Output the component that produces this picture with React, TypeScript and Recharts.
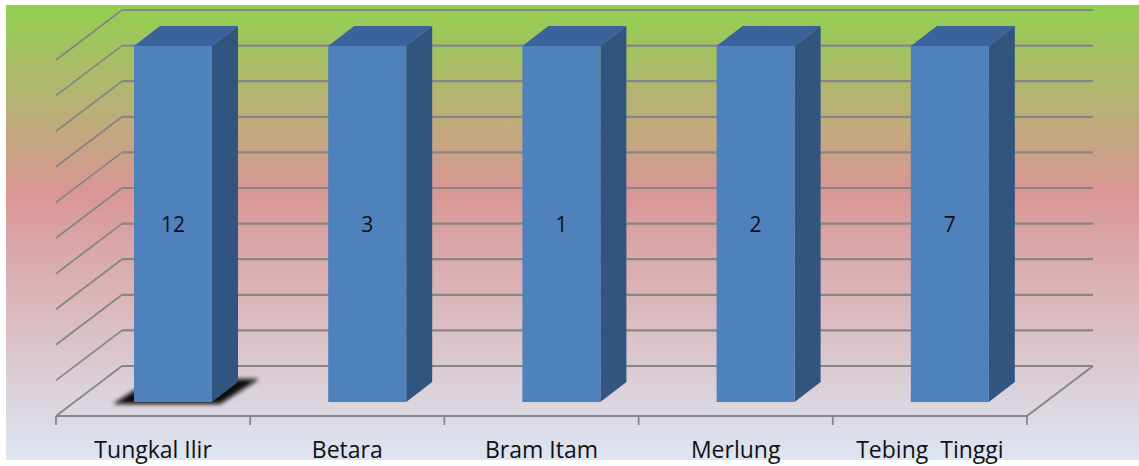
import React from "react";
import { BarChart, Bar, XAxis, YAxis, CartesianGrid, LabelList } from "recharts";

const districts = ["Tungkal Ilir", "Betara", "Bram Itam", "Merlung", "Tebing  Tinggi"];
const counts = [12, 3, 1, 2, 7];
const shareTicks = [0, 0.1, 0.2, 0.3, 0.4, 0.5, 0.6, 0.7, 0.8, 0.9, 1];

const rows = districts.map((name, i) => ({ name, count: counts[i] }));

const FONT = "'Open Sans', Lato, sans-serif";
const GRID = "#868686";
// Perspective offsets between the bars' front plane and the chart box
const DEPTH_X = 26;
const DEPTH_Y = 20;
const FRONT_DX = 20;
const FRONT_DY = 14;
const BACK_DX = 46;
const BACK_DY = 36;
const BOX_WIDTH = 971;

function Column(props: any) {
  const { x, y, width, height, index } = props;
  const r = x + width;
  const b = y + height;
  return (
    <g>
      {index === 0 && (
        <polygon
          points={`${x - 21},${b + 2} ${r + 8},${b + 2} ${r + 47},${b - 23} ${x + 18},${b - 23}`}
          fill="#0a0a0a"
          filter="url(#floorShadow)"
        />
      )}
      <polygon
        points={`${x},${y} ${x + DEPTH_X},${y - DEPTH_Y} ${r + DEPTH_X},${y - DEPTH_Y} ${r},${y}`}
        fill="#39639a"
      />
      <polygon
        points={`${r},${y} ${r + DEPTH_X},${y - DEPTH_Y} ${r + DEPTH_X},${b - DEPTH_Y} ${r},${b}`}
        fill="#31557f"
      />
      <rect x={x} y={y} width={width} height={height} fill="#4f81bd" />
    </g>
  );
}

function WallLine(props: any) {
  const { x1, y1, index } = props;
  const left = x1 - FRONT_DX;
  const backLeft = x1 + BACK_DX;
  const backRight = backLeft + BOX_WIDTH;
  const isFloor = index === 0;
  return (
    <g fill="none" stroke={GRID}>
      <polyline points={`${left},${y1 + FRONT_DY} ${backLeft},${y1 - BACK_DY}`} strokeWidth={1.8} />
      <line x1={backLeft} y1={y1 - BACK_DY} x2={backRight} y2={y1 - BACK_DY} strokeWidth={2.2} />
      {isFloor && (
        <polyline
          points={`${left},${y1 + FRONT_DY} ${left + BOX_WIDTH},${y1 + FRONT_DY} ${backRight},${y1 - BACK_DY}`}
          strokeWidth={2}
        />
      )}
    </g>
  );
}

function CategoryTick(props: any) {
  const { x, y, payload, index } = props;
  const half = payload.offset ?? 97.1;
  const cx = x - FRONT_DX;
  const top = y + FRONT_DY;
  return (
    <g>
      <line x1={cx - half} y1={top} x2={cx - half} y2={top + 9} stroke={GRID} strokeWidth={1.8} />
      {index === districts.length - 1 && (
        <line x1={cx + half} y1={top} x2={cx + half} y2={top + 9} stroke={GRID} strokeWidth={1.8} />
      )}
      <text
        x={cx}
        y={458}
        textAnchor="middle"
        fontFamily={FONT}
        fontSize={23}
        fill="#111"
        style={{ whiteSpace: "pre" }}
      >
        {payload.value}
      </text>
    </g>
  );
}

export default function App() {
  return (
    <div style={{ position: "absolute", left: 0, top: 0, width: 1139, height: 466, background: "#fff" }}>
      <div
        style={{
          position: "absolute",
          left: 6,
          top: 5,
          width: 1133,
          height: 455,
          background: "linear-gradient(180deg, #92d050 0%, #d99694 41%, #dce6f2 100%)",
        }}
      />
      <div style={{ position: "absolute", left: 0, top: 0 }}>
        <BarChart
          width={1139}
          height={466}
          data={rows}
          stackOffset="expand"
          margin={{ top: 46, right: 92, bottom: 0, left: 76 }}
        >
          <defs>
            <filter id="floorShadow" x="-20%" y="-40%" width="140%" height="180%">
              <feGaussianBlur stdDeviation="2.2" />
            </filter>
          </defs>
          <CartesianGrid vertical={false} horizontal={(p: any) => <WallLine key={p.index} {...p} />} />
          <XAxis
            dataKey="name"
            height={64}
            axisLine={false}
            tickLine={false}
            tickSize={0}
            tickMargin={0}
            interval={0}
            tick={(p: any) => <CategoryTick {...p} />}
          />
          <YAxis hide type="number" domain={[0, 1]} ticks={shareTicks} />
          <Bar dataKey="count" stackId="total" barSize={78} shape={(p: any) => <Column {...p} />} isAnimationActive={false}>
            <LabelList dataKey="count" position="center" fill="#111" fontFamily={FONT} fontSize={21} dy={1} />
          </Bar>
        </BarChart>
      </div>
    </div>
  );
}
